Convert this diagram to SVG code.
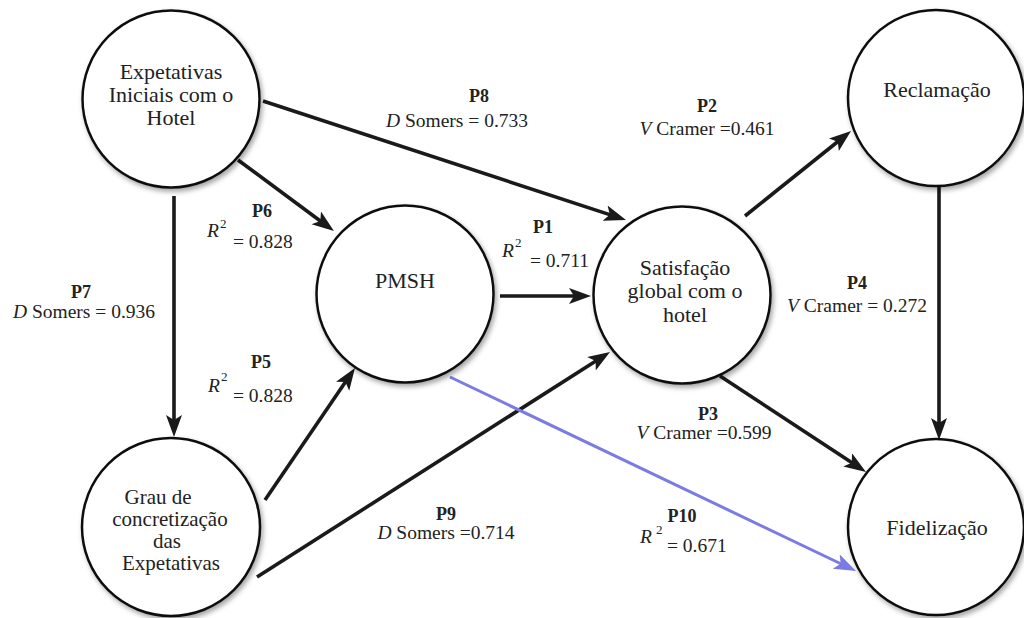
<svg xmlns="http://www.w3.org/2000/svg" width="1024" height="618" viewBox="0 0 1024 618">
<style>
.node circle{fill:#fff;stroke:#111;stroke-width:2.5;filter:url(#sh)}
.nt{font-family:'Liberation Serif','DejaVu Serif',serif;font-size:22px;fill:#222;text-anchor:middle}
.nt2{font-size:21px}
.edge{stroke:#1a1a1a;stroke-width:3.6;fill:none;marker-end:url(#ah)}
.blue{stroke:#7b7be3;stroke-width:3;fill:none;marker-end:url(#ahb)}
.lb{font-family:'Liberation Serif','DejaVu Serif',serif;font-size:19.5px;fill:#222}
.pb{font-family:'Liberation Serif','DejaVu Serif',serif;font-size:18px;font-weight:bold;fill:#222;text-anchor:middle}
.c{text-anchor:middle}
.it{font-style:italic}
.sup{font-family:'Liberation Serif','DejaVu Serif',serif;font-size:13px;fill:#222}
</style>
<defs>
<filter id="sh" x="-20%" y="-20%" width="140%" height="140%">
<feDropShadow dx="2" dy="3" stdDeviation="2.5" flood-color="#000" flood-opacity="0.35"/>
</filter>
<marker id="ah" markerUnits="userSpaceOnUse" markerWidth="24" markerHeight="18" refX="8" refY="8" orient="auto">
<path d="M0,0 L22,8 L0,16 L5,8 z" fill="#1a1a1a"/>
</marker>
<marker id="ahb" markerUnits="userSpaceOnUse" markerWidth="24" markerHeight="18" refX="8" refY="8" orient="auto">
<path d="M0,0 L22,8 L0,16 L5,8 z" fill="#7b7be3"/>
</marker>
</defs>
<rect width="1024" height="618" fill="#fff"/>

<g id="connectors">
<line class="edge" x1="263" y1="101" x2="612.7" y2="215.6"/>
<line class="edge" x1="238" y1="160" x2="322.7" y2="222.7"/>
<line class="edge" x1="174" y1="196" x2="174" y2="423"/>
<line class="edge" x1="500" y1="296" x2="577" y2="296"/>
<line class="edge" x1="265" y1="500" x2="347.1" y2="379.6"/>
<line class="edge" x1="257" y1="577" x2="598.2" y2="359.5"/>
<line class="edge" x1="745" y1="216" x2="840.1" y2="139.75"/>
<line class="edge" x1="939" y1="187" x2="939" y2="426"/>
<line class="edge" x1="720" y1="376" x2="854.3" y2="464.3"/>
<line class="blue" x1="450" y1="377" x2="843.4" y2="565"/>
</g>

<g id="n-expetativas" class="node">
<circle cx="171" cy="99" r="88.5"/>
<text class="nt" x="171" y="79">Expetativas</text>
<text class="nt" x="171" y="102">Iniciais com o</text>
<text class="nt" x="171" y="125">Hotel</text>
</g>
<g id="n-pmsh" class="node">
<circle cx="405" cy="294" r="88.5"/>
<text class="nt" x="405" y="288">PMSH</text>
</g>
<g id="n-satisfacao" class="node">
<circle cx="682" cy="295" r="88.5"/>
<text class="nt" x="685" y="275">Satisfação</text>
<text class="nt" x="685" y="298">global com o</text>
<text class="nt" x="685" y="322">hotel</text>
</g>
<g id="n-reclamacao" class="node">
<circle cx="936" cy="98" r="88"/>
<text class="nt" x="937" y="97">Reclamação</text>
</g>
<g id="n-fidelizacao" class="node">
<circle cx="936" cy="527" r="88"/>
<text class="nt" x="937" y="535">Fidelização</text>
</g>
<g id="n-grau" class="node">
<circle cx="171" cy="527" r="89"/>
<text class="nt nt2" x="158" y="504">Grau de</text>
<text class="nt nt2" x="170" y="526">concretização</text>
<text class="nt nt2" x="167" y="548">das</text>
<text class="nt nt2" x="171" y="570">Expetativas</text>
</g>

<g id="labels">
<text class="pb" x="479" y="102">P8</text>
<text class="lb c" x="457" y="127"><tspan class="it">D</tspan> Somers = 0.733</text>

<text class="pb" x="707" y="112">P2</text>
<text class="lb c" x="707" y="135"><tspan class="it">V</tspan> Cramer =0.461</text>

<text class="pb" x="262" y="217">P6</text>
<text class="lb it" x="207" y="237">R</text>
<text class="sup" x="220" y="228">2</text>
<text class="lb" x="233" y="248">= 0.828</text>

<text class="pb" x="543" y="233">P1</text>
<text class="lb it" x="502" y="257">R</text>
<text class="sup" x="515" y="247">2</text>
<text class="lb" x="530" y="267">= 0.711</text>

<text class="pb" x="81" y="298">P7</text>
<text class="lb c" x="84" y="318"><tspan class="it">D</tspan> Somers = 0.936</text>

<text class="pb" x="857" y="289">P4</text>
<text class="lb c" x="857" y="312"><tspan class="it">V</tspan> Cramer = 0.272</text>

<text class="pb" x="261" y="368">P5</text>
<text class="lb it" x="208" y="392">R</text>
<text class="sup" x="221" y="381">2</text>
<text class="lb" x="233" y="402">= 0.828</text>

<text class="pb" x="708" y="420">P3</text>
<text class="lb c" x="704" y="439"><tspan class="it">V</tspan> Cramer =0.599</text>

<text class="pb" x="446" y="520">P9</text>
<text class="lb c" x="446" y="539"><tspan class="it">D</tspan> Somers =0.714</text>

<text class="pb" x="682" y="522">P10</text>
<text class="lb it" x="640" y="543">R</text>
<text class="sup" x="656" y="534">2</text>
<text class="lb" x="667" y="552">= 0.671</text>
</g>
</svg>
